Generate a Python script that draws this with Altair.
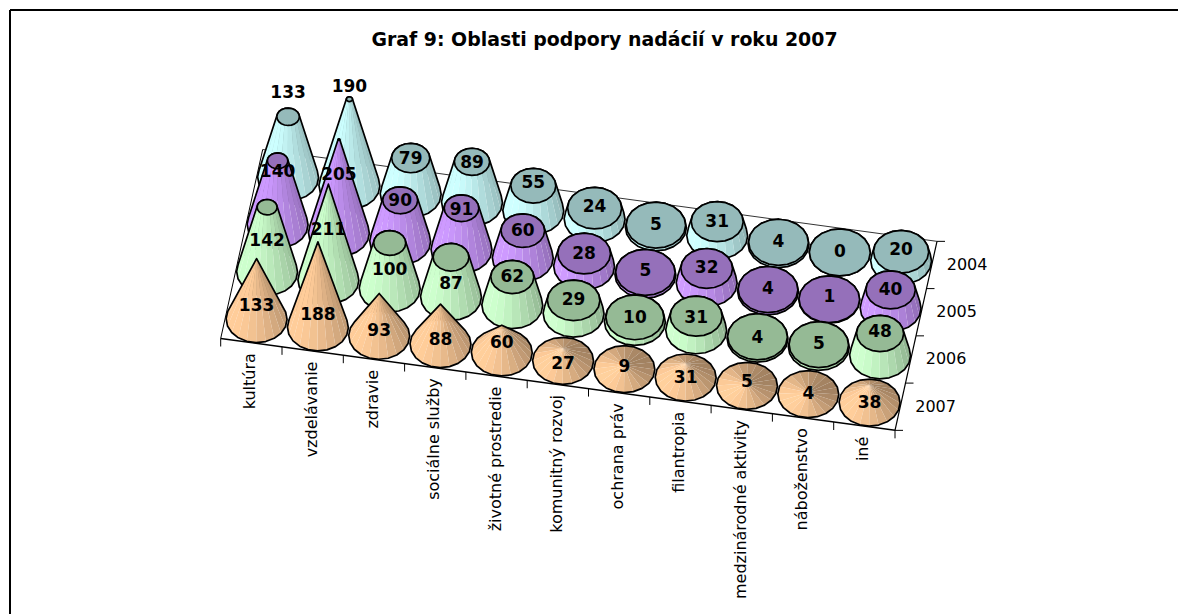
import math
import altair as alt
import pandas as pd

alt.data_transformers.disable_max_rows()

TITLE = "Graf 9: Oblasti podpory nadácií v roku 2007"
categories = ["kultúra", "vzdelávanie", "zdravie", "sociálne služby", "životné prostredie",
              "komunitný rozvoj", "ochrana práv", "filantropia", "medzinárodné aktivity",
              "náboženstvo", "iné"]
years = ["2007", "2006", "2005", "2004"]
v2007 = [133, 188, 93, 88, 60, 27, 9, 31, 5, 4, 38]
v2006 = [142, 211, 100, 87, 62, 29, 10, 31, 4, 5, 48]
v2005 = [140, 205, 90, 91, 60, 28, 5, 32, 4, 1, 40]
v2004 = [133, 190, 79, 89, 55, 24, 5, 31, 4, 0, 20]
series = [v2007, v2006, v2005, v2004]

# label height above the cone base, in value-axis pixels
lift2007 = [13, 12, 5, 4, 9.5, -3, 2, -0.5, 4, 0, 0]
lift2006 = [31, 50, 18.5, 13, 28, 13.5, 4, 12, 0.5, 3, 23]
lift2005 = [52.6, 58, 40, 39.6, 27, 12.3, 3.7, 15, 2.4, 2.7, 18]
lift2004 = [84, 98.6, 35, 39, 27.7, 12, 2.4, 13.7, 2, 0, 10.8]
lifts = [lift2007, lift2006, lift2005, lift2004]

side_colors = [(255, 204, 153), (204, 255, 204), (204, 153, 255), (204, 255, 255)]

# oblique floor: origin + i * U + j * V, value rises straight up the page
ORIGIN = (220.7, 338.5)
U = (61.3, 8.35)
V = (10.5, -47.25)
RADIUS = 0.49
PER_VALUE = 0.455
VMAX = 211
SLICES = 20


def floor(i, j):
    return ORIGIN[0] + i * U[0] + j * V[0], ORIGIN[1] + i * U[1] + j * V[1]


def shade(rgb, b):
    return "#%02x%02x%02x" % tuple(min(255, int(round(c * b))) for c in rgb)


def hull(points):
    pts = sorted(set((round(a, 3), round(b, 3)) for a, b in points))
    if len(pts) < 3:
        return pts

    def cross(o, a, b):
        return (a[0] - o[0]) * (b[1] - o[1]) - (a[1] - o[1]) * (b[0] - o[0])

    low, up = [], []
    for p in pts:
        while len(low) >= 2 and cross(low[-2], low[-1], p) <= 0:
            low.pop()
        low.append(p)
    for p in reversed(pts):
        while len(up) >= 2 and cross(up[-2], up[-1], p) <= 0:
            up.pop()
        up.append(p)
    return low[:-1] + up[:-1]


rows = []
poly = 0


def add(points, fill, stroke):
    global poly
    poly += 1
    for k, (a, b) in enumerate(points):
        rows.append({"px": round(a, 2), "py": round(b, 2), "poly": poly, "seq": k,
                     "fill": fill, "stroke": stroke})


labels = []
for j in range(3, -1, -1):
    for i, value in enumerate(series[j]):
        cx, cy = floor(i + 0.5, j + 0.5)
        height = PER_VALUE * value
        taper = 0.0 if j == 0 else 1 - value / VMAX
        ring = []
        for k in range(SLICES):
            t = 2 * math.pi * (k + 0.5) / SLICES
            ring.append((RADIUS * math.cos(t), RADIUS * math.sin(t), t))
        base = [(cx + a * U[0] + b * V[0], cy + a * U[1] + b * V[1]) for a, b, _ in ring]
        top = [(cx + taper * a * U[0] + taper * b * V[0],
                cy + taper * a * U[1] + taper * b * V[1] - height) for a, b, _ in ring]
        order = sorted(range(SLICES),
                       key=lambda k: -math.sin(ring[k][2] + math.pi / SLICES))
        steep = min(1.0, height / 50)
        if value > 0:
            for k in order:
                m = (k + 1) % SLICES
                mid = ring[k][2] + math.pi / SLICES
                sn, cs = math.sin(mid), math.cos(mid)
                tall = 0.87 - 0.11 * cs - (0.21 if sn > 0 else 0.08) * sn
                flat = 0.83 - 0.16 * cs - 0.115 * sn
                b = steep * tall + (1 - steep) * flat
                add([base[k], base[m], top[m], top[k]], shade(side_colors[j], b), "transparent")
        add(hull(base + top), "transparent", "#000000")
        if j > 0:
            add(top, shade(side_colors[j], 0.73), "#000000")
        labels.append({"px": cx, "py": cy - lifts[j][i], "text": str(value)})

polys = pd.DataFrame(rows)
labels = pd.DataFrame(labels)

NI, NJ = len(categories), len(years)
edges = []
for a, b, w in [((0, 0), (NI, 0), 1.5), ((NI, 0), (NI, NJ), 1.2),
                ((0, 0), (0, NJ), 1.0), ((0, NJ), (NI, NJ), 0.8)]:
    p, q = floor(*a), floor(*b)
    edges.append({"px": p[0], "py": p[1], "qx": q[0], "qy": q[1], "w": w})
for i in range(NI + 1):
    p = floor(i, 0)
    edges.append({"px": p[0], "py": p[1], "qx": p[0], "qy": p[1] + 8, "w": 1.0})
for j in range(NJ + 1):
    p = floor(NI, j)
    edges.append({"px": p[0], "py": p[1], "qx": p[0] + 8, "qy": p[1], "w": 1.0})
edges = pd.DataFrame(edges)

cat_labels = pd.DataFrame([
    {"px": floor(i + 0.5, 0)[0] - 1, "py": floor(i + 0.5, 0)[1] + 10.5, "text": c}
    for i, c in enumerate(categories)])
year_labels = pd.DataFrame([
    {"px": floor(NI, j + 0.5)[0] + 15, "py": floor(NI, j + 0.5)[1], "text": y}
    for j, y in enumerate(years)])
frame = pd.DataFrame([{"px": 10, "py": 10, "qx": 1178, "qy": 10},
                      {"px": 10, "py": 10, "qx": 10, "qy": 614}])
title = pd.DataFrame([{"px": 604.5, "py": 39.5, "text": TITLE}])

FONT = "DejaVu Sans"
X = alt.X("px:Q", scale=alt.Scale(domain=[8, 1178], nice=False, zero=False), axis=None)
Y = alt.Y("py:Q", scale=alt.Scale(domain=[614, 8], nice=False, zero=False), axis=None)

frame_layer = alt.Chart(frame).mark_rule(color="#000000", strokeWidth=2).encode(
    x=X, y=Y, x2="qx:Q", y2="qy:Q")
edge_layer = alt.Chart(edges).mark_rule(color="#000000").encode(
    x=X, y=Y, x2="qx:Q", y2="qy:Q",
    strokeWidth=alt.StrokeWidth("w:Q", scale=None))
cone_layer = alt.Chart(polys).mark_line(
    interpolate="linear-closed", strokeWidth=1.7, strokeJoin="round", fill="transparent"
).encode(
    x=X, y=Y,
    detail="poly:N",
    order=alt.Order("seq:Q"),
    fill=alt.Fill("fill:N", scale=None),
    stroke=alt.Stroke("stroke:N", scale=None),
)
value_layer = alt.Chart(labels).mark_text(
    font=FONT, fontSize=17, fontWeight="bold", color="#000000", baseline="middle", align="center"
).encode(x=X, y=Y, text="text:N")
cat_layer = alt.Chart(cat_labels).mark_text(
    font=FONT, fontSize=16, color="#000000", angle=270, align="right", baseline="middle"
).encode(x=X, y=Y, text="text:N")
year_layer = alt.Chart(year_labels).mark_text(
    font=FONT, fontSize=16, color="#000000", align="left", baseline="middle"
).encode(x=X, y=Y, text="text:N")
title_layer = alt.Chart(title).mark_text(
    font=FONT, fontSize=18.9, fontWeight="bold", color="#000000", align="center", baseline="middle"
).encode(x=X, y=Y, text="text:N")

chart = alt.layer(
    frame_layer, edge_layer, cone_layer, value_layer, cat_layer, year_layer, title_layer
).properties(
    width=1170, height=606, padding=0, background="#ffffff", autosize=alt.AutoSizeParams(type="none")
).configure_view(stroke=None)

chart.save("out.html", embed_options={"renderer": "svg", "actions": False})
